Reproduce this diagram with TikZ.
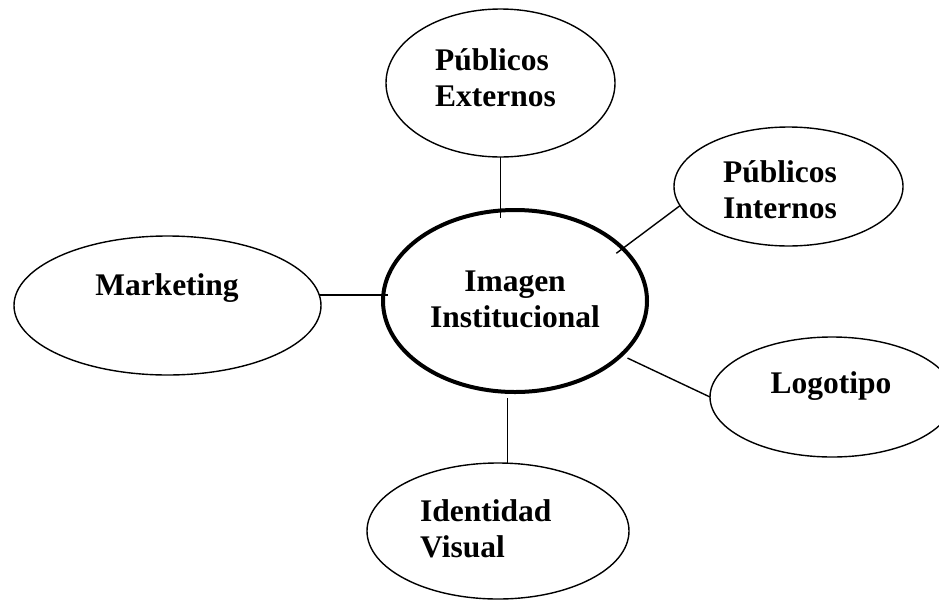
\documentclass[tikz,border=0pt]{standalone}
\usepackage{fontspec}
\setmainfont{Liberation Serif}
\usepackage{tikz}
\usetikzlibrary{shapes.geometric}

\begin{document}
\begin{tikzpicture}[x=1pt,y=-1pt]
        % Define styles
        \tikzset{
            bubble/.style={ellipse, draw, line width=1.4pt, inner sep=0pt, outer sep=0pt},
            core/.style={bubble, line width=4pt},
            bubbletext/.style={font=\fontsize{31.5}{36}\selectfont\bfseries, align=left, inner sep=0pt},
            link/.style={line width=1.4pt}
        }
        \useasboundingbox (0,0) rectangle (939,600);

        % Ellipses
        \node[core, minimum width=264pt, minimum height=182pt] (img_node) at (515,301) {};
        \node[bubble, minimum width=229pt, minimum height=148pt] (ext_node) at (500.5,83) {};
        \node[bubble, minimum width=229pt, minimum height=119pt] (int_node) at (788.5,186.5) {};
        \node[bubble, minimum width=307pt, minimum height=139pt] (mkt_node) at (167.5,305.5) {};
        \node[bubble, minimum width=244pt, minimum height=120pt] (logo_node) at (832,397) {};
        \node[bubble, minimum width=262pt, minimum height=136pt] (vis_node) at (498,531) {};

        % Texts (base = last line)
        \node[bubbletext, anchor=base, align=center] (img_text) at (515,327) {Imagen\\Institucional};
        \node[bubbletext, anchor=base west] (ext_text) at (435,106) {Públicos\\Externos};
        \node[bubbletext, anchor=base west] (int_text) at (723,218) {Públicos\\Internos};
        \node[bubbletext, anchor=base] (mkt_text) at (167,295) {Marketing};
        \node[bubbletext, anchor=base] (logo_text) at (831,393) {Logotipo};
        \node[bubbletext, anchor=base west] (vis_text) at (420,557) {Identidad\\Visual};

        % Lines
        \draw[link, shorten >=-8pt] (ext_node.south) -- (ext_node.south |- img_node.north);
        \draw[link, shorten <=-8pt] (img_node.26) -- (int_node.190);
        \draw[link, shorten >=-5pt] (mkt_node.4) -- (mkt_node.4 -| img_node.west);
        \draw[link, shorten <=7pt] (img_node.-27) -- (logo_node.west);
        \draw[link, shorten <=6pt] (img_node.south -| vis_node.82) -- (vis_node.82);
\end{tikzpicture}
\end{document}
